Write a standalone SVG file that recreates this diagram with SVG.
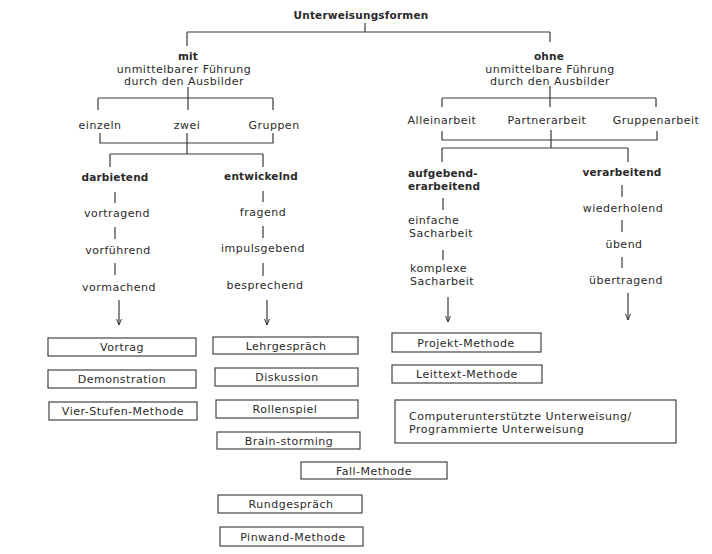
<svg xmlns="http://www.w3.org/2000/svg" width="712" height="554" viewBox="0 0 712 554">
<defs>
<style>
text{font-family:"DejaVu Sans","Liberation Sans",sans-serif;font-size:11px;letter-spacing:0.5px;fill:#2a2a2a}
.b{font-weight:bold;font-size:10.5px;letter-spacing:0.2px}
.c{text-anchor:middle}
.ln{stroke:#3a3a3a;stroke-width:1.2;fill:none}
.bx{fill:#fff;stroke:#444;stroke-width:1.2}
</style>
<marker id="ah" markerWidth="10" markerHeight="10" refX="8" refY="5" orient="auto" markerUnits="userSpaceOnUse">
<path d="M2,2.5 L8,5 L2,7.5" fill="none" stroke="#3a3a3a" stroke-width="1"/>
</marker>
</defs>
<rect width="712" height="554" fill="#fff"/>

<g id="connectors" class="ln">
<path d="M365,23 V32 M187,32 H550 M187,32 V46 M550,32 V42"/>
<path d="M188,87 V98 M98,98 H273 M98,98 V110 M188,98 V110 M273,98 V110"/>
<path d="M100,133 V143 H273 V133 M187,133 V154 M110,154 H263 M110,154 V167 M263,154 V167"/>
<path d="M550,86 V98 M442,98 H656 M442,98 V107 M550,98 V107 M656,98 V107"/>
<path d="M442,131 V140 H657 V131 M551,130 V148 M442,148 H628 M442,148 V162 M628,148 V162"/>
<path d="M115,192 V203 M115,227 V239 M115,263 V275"/>
<path d="M263,191 V202 M263,226 V238 M263,263 V276"/>
<path d="M443,198 V210 M443,250 V260"/>
<path d="M622,185 V197 M622,220 V232 M622,257 V268"/>
<path d="M119,300 V325" marker-end="url(#ah)"/>
<path d="M267,300 V325" marker-end="url(#ah)"/>
<path d="M448,297 V322" marker-end="url(#ah)"/>
<path d="M628,293 V320" marker-end="url(#ah)"/>
</g>

<g id="root"><text class="b c" x="361" y="19">Unterweisungsformen</text></g>

<g id="mit">
<text class="b c" x="188" y="60">mit</text>
<text class="c" x="184" y="72.5">unmittelbarer Führung</text>
<text class="c" x="184" y="85">durch den Ausbilder</text>
</g>
<g id="ohne">
<text class="b c" x="549" y="60">ohne</text>
<text class="c" x="550" y="72.5">unmittelbare Führung</text>
<text class="c" x="550" y="85">durch den Ausbilder</text>
</g>

<g id="einzeln"><text class="c" x="100" y="129">einzeln</text></g>
<g id="zwei"><text class="c" x="187" y="129">zwei</text></g>
<g id="gruppen"><text class="c" x="274" y="129">Gruppen</text></g>
<g id="alleinarbeit"><text class="c" x="442" y="124">Alleinarbeit</text></g>
<g id="partnerarbeit"><text class="c" x="547" y="124">Partnerarbeit</text></g>
<g id="gruppenarbeit"><text class="c" x="656" y="124">Gruppenarbeit</text></g>

<g id="darbietend">
<text class="b c" x="115" y="181">darbietend</text>
<text class="c" x="117" y="217">vortragend</text>
<text class="c" x="118" y="254">vorführend</text>
<text class="c" x="119" y="291">vormachend</text>
</g>
<g id="entwickelnd">
<text class="b c" x="261" y="180">entwickelnd</text>
<text class="c" x="263" y="216">fragend</text>
<text class="c" x="263" y="252">impulsgebend</text>
<text class="c" x="265" y="289">besprechend</text>
</g>
<g id="aufgebend">
<text class="b" x="408" y="177">aufgebend-</text>
<text class="b" x="408" y="189.5">erarbeitend</text>
<text x="408" y="224">einfache</text>
<text x="409" y="237">Sacharbeit</text>
<text x="410" y="272">komplexe</text>
<text x="410" y="285">Sacharbeit</text>
</g>
<g id="verarbeitend">
<text class="b c" x="622" y="176">verarbeitend</text>
<text class="c" x="623" y="212">wiederholend</text>
<text class="c" x="624" y="248">übend</text>
<text class="c" x="626" y="284">übertragend</text>
</g>

<g id="vortrag"><rect class="bx" x="48" y="338" width="148" height="18"/><text class="c" x="122" y="351">Vortrag</text></g>
<g id="demonstration"><rect class="bx" x="48" y="370" width="148" height="18"/><text class="c" x="122" y="383">Demonstration</text></g>
<g id="vierstufen"><rect class="bx" x="49" y="402" width="148" height="18"/><text class="c" x="123" y="415">Vier-Stufen-Methode</text></g>

<g id="lehrgespraech"><rect class="bx" x="213" y="337" width="145" height="17"/><text class="c" x="286" y="350">Lehrgespräch</text></g>
<g id="diskussion"><rect class="bx" x="215" y="368" width="143" height="18"/><text class="c" x="287" y="381">Diskussion</text></g>
<g id="rollenspiel"><rect class="bx" x="216" y="400" width="142" height="18"/><text class="c" x="285" y="413">Rollenspiel</text></g>
<g id="brainstorming"><rect class="bx" x="217" y="432" width="143" height="17"/><text class="c" x="289" y="445">Brain-storming</text></g>
<g id="fallmethode"><rect class="bx" x="301" y="462" width="146" height="17"/><text class="c" x="374" y="475">Fall-Methode</text></g>
<g id="rundgespraech"><rect class="bx" x="218" y="495" width="144" height="18"/><text class="c" x="291" y="508">Rundgespräch</text></g>
<g id="pinwand"><rect class="bx" x="220" y="527" width="143" height="19"/><text class="c" x="293" y="541">Pinwand-Methode</text></g>

<g id="projekt"><rect class="bx" x="392" y="333" width="149" height="19"/><text class="c" x="466" y="347">Projekt-Methode</text></g>
<g id="leittext"><rect class="bx" x="392" y="365" width="150" height="18"/><text class="c" x="467" y="378">Leittext-Methode</text></g>
<g id="computer"><rect class="bx" x="395" y="400" width="281" height="43"/>
<text x="409" y="419.5">Computerunterstützte Unterweisung/</text>
<text x="409" y="433">Programmierte Unterweisung</text>
</g>
</svg>
